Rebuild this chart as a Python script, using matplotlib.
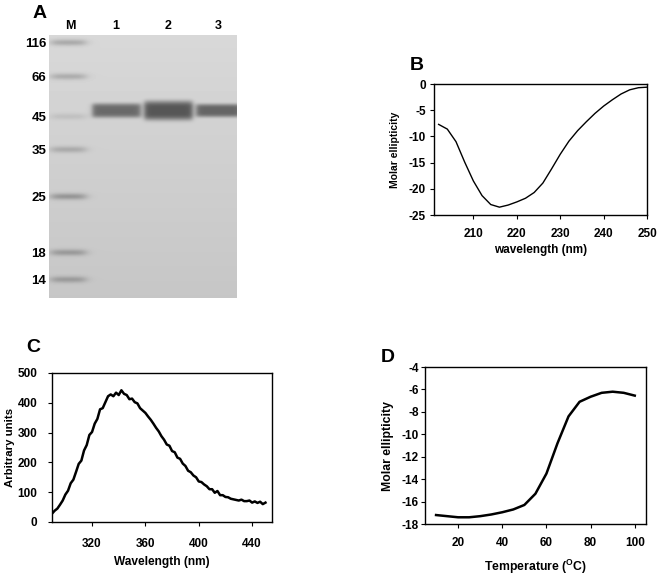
import numpy as np
import matplotlib
matplotlib.use("Agg")
import matplotlib.pyplot as plt

plt.rcParams['font.family'] = ['Liberation Sans', 'DejaVu Sans']
plt.rcParams['font.weight'] = 'bold'
plt.rcParams['axes.unicode_minus'] = False
plt.rcParams['mathtext.fontset'] = 'custom'
plt.rcParams['mathtext.rm'] = 'Liberation Sans:bold'
plt.rcParams['mathtext.bf'] = 'Liberation Sans:bold'

# ---- panel A: SDS-PAGE gel
marker_kda = ["116", "66", "45", "35", "25", "18", "14"]
marker_pos = [7, 41, 81, 114, 161, 217, 244]          # migration (px from gel top)
marker_dark = [45, 40, 18, 38, 55, 48, 45]            # band darkness
lane_names = ["M", "1", "2", "3"]
lane_center = [21, 67, 119, 169]
lane_halfw = [17, 24, 24, 22]
sample_pos = 75
sample_dark = [0, 105, 125, 110]
sample_thick = [6.0, 6.0, 8.0, 5.5]

# ---- panel B: far-UV CD spectrum
cd_wl = [202, 204, 206, 208, 210, 212, 214, 216, 218, 220, 222, 224, 226,
         228, 230, 232, 234, 236, 238, 240, 242, 244, 246, 248, 250]
cd_val = [-7.7, -8.6, -11.0, -14.9, -18.5, -21.3, -23.0, -23.5, -23.1, -22.5,
          -21.8, -20.7, -18.9, -16.2, -13.4, -10.9, -8.9, -7.2, -5.6, -4.2,
          -3.0, -1.9, -1.1, -0.7, -0.6]

# ---- panel C: intrinsic fluorescence emission
fl_wl = list(range(290, 452, 2))
fl_val = [28, 38, 45, 58, 72, 92, 105, 130, 142, 168, 195, 206, 240, 258, 292,
          302, 330, 346, 378, 382, 402, 422, 428, 422, 434, 426, 442, 430, 426,
          412, 414, 402, 398, 382, 374, 366, 354, 343, 330, 316, 304, 288, 276,
          260, 256, 238, 234, 216, 212, 196, 188, 172, 167, 156, 150, 136, 134,
          126, 120, 110, 110, 98, 104, 90, 90, 84, 83, 78, 76, 74, 72, 75, 70,
          70, 72, 65, 69, 64, 68, 60, 65]

# ---- panel D: thermal unfolding
tm_temp = [10, 15, 20, 25, 30, 35, 40, 45, 50, 55, 60, 65, 70, 75, 80, 85, 90, 95, 100]
tm_val = [-17.2, -17.3, -17.4, -17.4, -17.3, -17.15, -16.95, -16.7, -16.3, -15.3,
          -13.5, -10.8, -8.4, -7.1, -6.65, -6.3, -6.2, -6.3, -6.55]

fig = plt.figure(figsize=(6.61, 5.78), dpi=100)

# gel image
W, H = 188, 263
yy, xx = np.mgrid[0:H, 0:W].astype(float)
gel = 216 - 18 * (yy / H)
for c, hw, d, t in zip(lane_center, lane_halfw, sample_dark, sample_thick):
    if d == 0:
        continue
    prof_x = 1 / (1 + np.exp((np.abs(xx - c) - hw) / 1.5))
    prof_y = np.exp(-0.5 * (np.abs(yy - sample_pos) / t) ** 4)
    gel -= d * prof_x * prof_y
for p, d in zip(marker_pos, marker_dark):
    prof_x = 1 / (1 + np.exp((np.abs(xx - lane_center[0] + 2) - lane_halfw[0]) / 3.0))
    prof_y = np.exp(-0.5 * ((yy - p) / 2.3) ** 2)
    gel -= d * prof_x * prof_y
axA = fig.add_axes([0.0741, 0.4844, 0.2844, 0.455])
axA.imshow(gel, cmap='gray', vmin=0, vmax=255, extent=[0, W, H, 0],
           interpolation='bilinear', aspect='auto')
axA.set_xlim(0, W)
axA.set_ylim(H, 0)
axA.set_yticks(marker_pos)
axA.set_yticklabels(marker_kda, fontsize=9.5, fontweight='bold')
axA.tick_params(axis='y', length=0, pad=2)
axA.set_xticks([])
for s in axA.spines.values():
    s.set_visible(False)
for name, c in zip(lane_names, lane_center):
    axA.text(c, -9, name, ha='center', va='center', fontsize=9, fontweight='bold')
fig.text(40 / 661, 1 - 13 / 578, "A", ha='center', va='center', fontsize=14, fontweight='bold')


def style(ax, xpad, ypad, fs=8.5):
    ax.tick_params(direction='out', length=3, width=0.8, labelsize=fs)
    ax.tick_params(axis='x', pad=xpad)
    ax.tick_params(axis='y', pad=ypad)
    for lab in ax.get_xticklabels() + ax.get_yticklabels():
        lab.set_fontweight('bold')
    for s in ax.spines.values():
        s.set_linewidth(1.0)


# panel B
axB = fig.add_axes([0.657, 0.628, 0.322, 0.2266])
axB.plot(cd_wl, cd_val, color='black', lw=1.0)
axB.set_xlim(201, 250)
axB.set_ylim(-25, 0)
axB.set_xticks([210, 220, 230, 240, 250])
axB.set_yticks([0, -5, -10, -15, -20, -25])
style(axB, 6, 3)
axB.set_xlabel("wavelength (nm)", fontsize=8.5, fontweight='bold', labelpad=3)
axB.set_ylabel("Molar ellipticity", fontsize=7.5, fontweight='bold', labelpad=6)
fig.text(417 / 661, 1 - 65 / 578, "B", ha='center', va='center', fontsize=14, fontweight='bold')

# panel C
axC = fig.add_axes([0.0787, 0.0969, 0.333, 0.2578])
axC.plot(fl_wl, fl_val, color='black', lw=1.8)
axC.set_xlim(290, 455)
axC.set_ylim(0, 500)
axC.set_xticks([320, 360, 400, 440])
axC.set_yticks([0, 100, 200, 300, 400, 500])
style(axC, 8.5, 7.5)
axC.set_xlabel("Wavelength (nm)", fontsize=8.6, fontweight='bold', labelpad=4)
axC.set_ylabel("Arbitrary units", fontsize=8.2, fontweight='bold', labelpad=1.5)
fig.text(33 / 661, 1 - 347 / 578, "C", ha='center', va='center', fontsize=14, fontweight='bold')

# panel D
axD = fig.add_axes([0.643, 0.0934, 0.334, 0.2716])
axD.plot(tm_temp, tm_val, color='black', lw=1.8)
axD.set_xlim(5, 105)
axD.set_ylim(-18, -4)
axD.set_xticks([20, 40, 60, 80, 100])
axD.set_yticks([-4, -6, -8, -10, -12, -14, -16, -18])
style(axD, 6.5, 1.5)
axD.set_xlabel(r"Temperature ($^{\mathbf{O}}$C)", fontsize=8.8, fontweight='bold', labelpad=6.5)
axD.set_ylabel("Molar ellipticity", fontsize=8.8, fontweight='bold', labelpad=5.5)
fig.text(388 / 661, 1 - 357 / 578, "D", ha='center', va='center', fontsize=14, fontweight='bold')

fig.savefig("out.png", dpi=100)
